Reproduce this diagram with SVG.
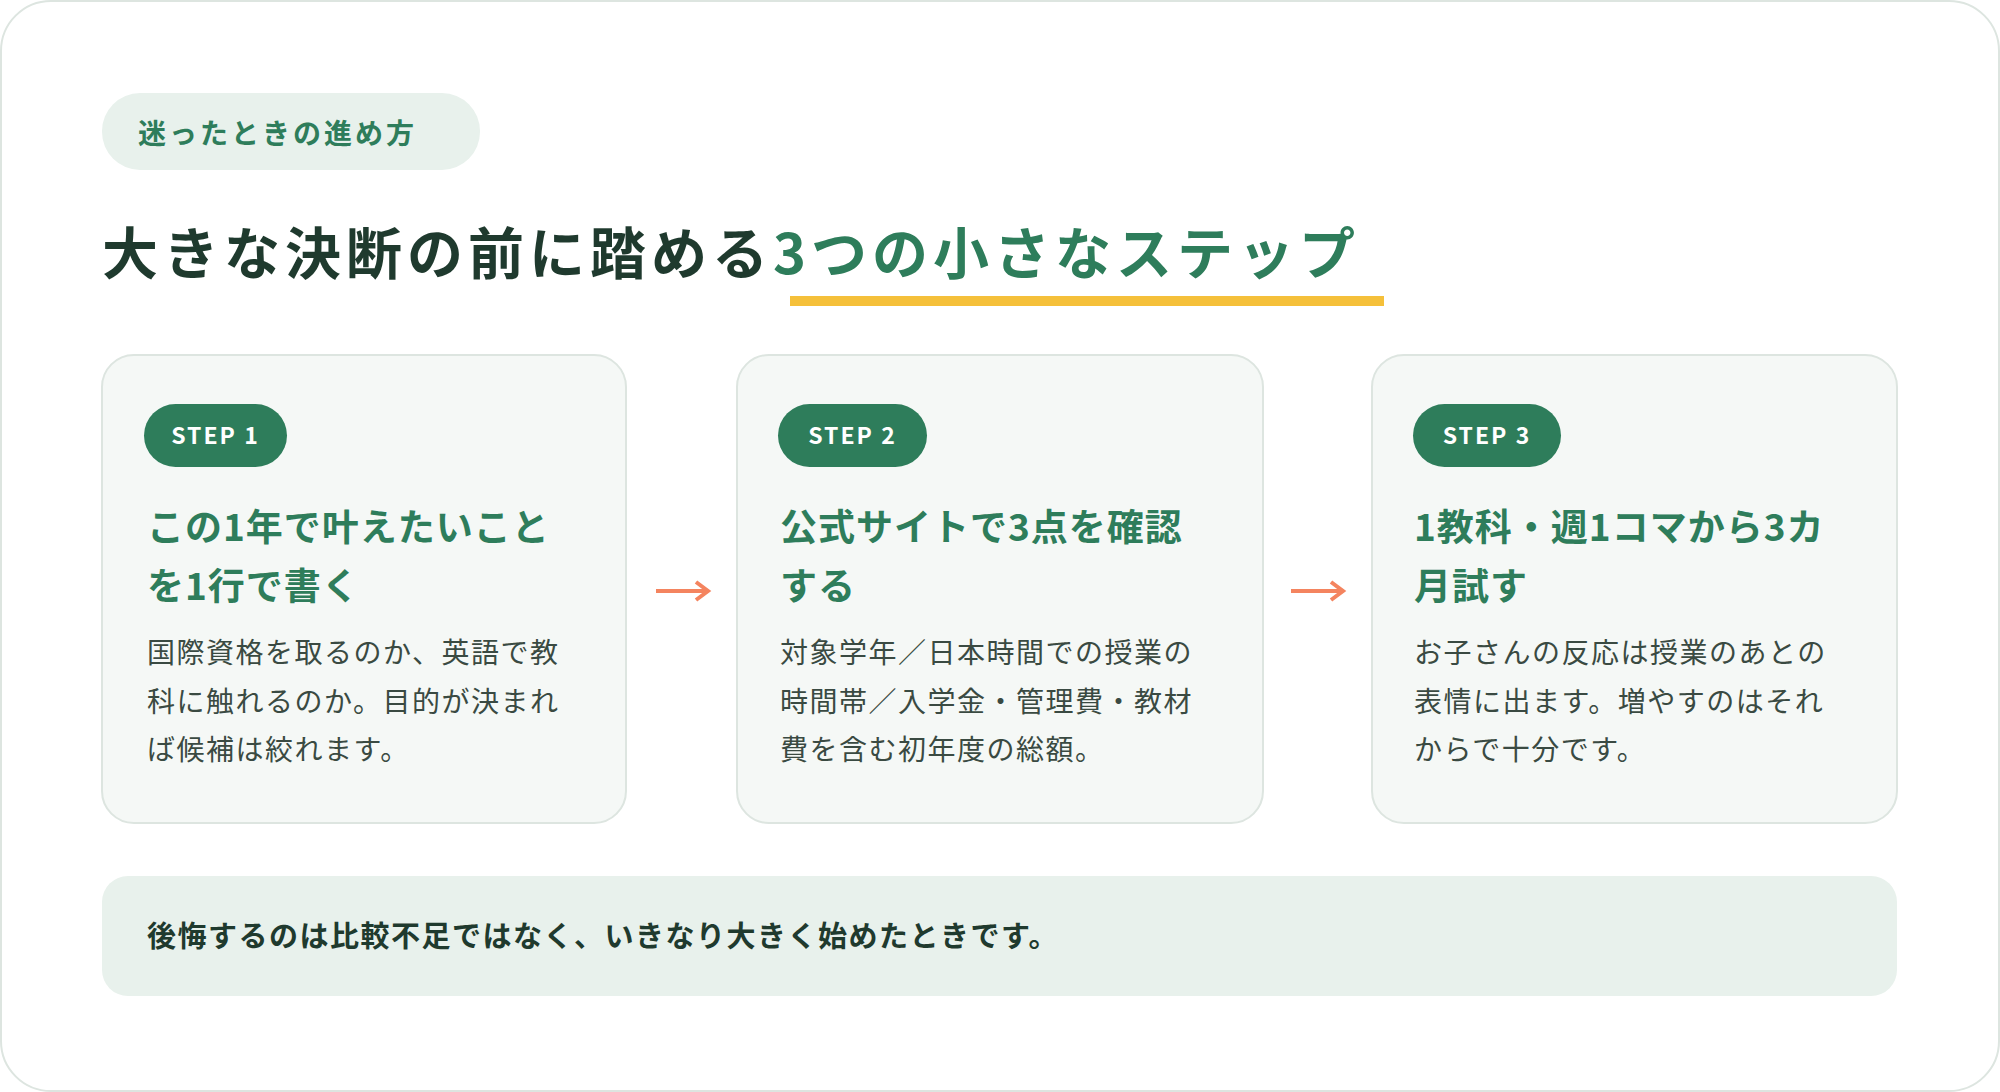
<svg xmlns="http://www.w3.org/2000/svg" width="2000" height="1092" viewBox="0 0 2000 1092">
<style>
text{font-family:"Noto Sans CJK JP","Noto Sans",sans-serif}
.card{fill:#f5f8f6;stroke:#dde5e0;stroke-width:2}
.badge{fill:#2e7d5b}
.bt{fill:#fff;font-weight:700;font-size:23px;letter-spacing:2px;text-anchor:middle}
.h{fill:#2e7d5b;font-weight:700;font-size:37px;letter-spacing:1px}
.b{fill:#3a4a42;font-size:28px;letter-spacing:1.5px}
.arr{stroke:#f4845f;stroke-width:4;fill:none}
</style>
<defs><marker id="ah" markerWidth="8" markerHeight="8" refX="6" refY="4" orient="auto" markerUnits="userSpaceOnUse"><path d="M0,0 L8,4 L0,8" fill="none" stroke="#f4845f" stroke-width="0"/></marker></defs>
<rect x="1" y="1" width="1998" height="1090" rx="50" fill="#fff" stroke="#dde5e0" stroke-width="2"/>
<g id="tag"><rect x="102" y="93" width="378" height="77" rx="38" fill="#e8f1ec"/><text x="138" y="144" font-size="28" font-weight="700" fill="#2e7d5b" letter-spacing="3">迷ったときの進め方</text></g>
<g id="title"><rect x="790" y="296" width="594" height="10" fill="#f5c03a"/>
<text x="102" y="274" font-size="56" font-weight="700" fill="#1f3a2e" letter-spacing="5">大きな決断の前に踏める<tspan fill="#2e7d5b">3つの小さなステップ</tspan></text></g>
<g id="step1"><rect class="card" x="102" y="355" width="524" height="468" rx="32"/><rect class="badge" x="144" y="404" width="143" height="63" rx="31.5"/><text class="bt" x="215.5" y="444">STEP 1</text>
<text class="h" x="147" y="541">この1年で叶えたいこと</text><text class="h" x="147" y="600">を1行で書く</text>
<text class="b" x="147" y="663">国際資格を取るのか、英語で教</text><text class="b" x="147" y="712">科に触れるのか。目的が決まれ</text><text class="b" x="147" y="760">ば候補は絞れます。</text></g>
<g id="step2"><rect class="card" x="737" y="355" width="526" height="468" rx="32"/><rect class="badge" x="778" y="404" width="149" height="63" rx="31.5"/><text class="bt" x="852.5" y="444">STEP 2</text>
<text class="h" x="780" y="541">公式サイトで3点を確認</text><text class="h" x="780" y="600">する</text>
<text class="b" x="780" y="663">対象学年／日本時間での授業の</text><text class="b" x="780" y="712">時間帯／入学金・管理費・教材</text><text class="b" x="780" y="760">費を含む初年度の総額。</text></g>
<g id="step3"><rect class="card" x="1372" y="355" width="525" height="468" rx="32"/><rect class="badge" x="1413" y="404" width="148" height="63" rx="31.5"/><text class="bt" x="1487" y="444">STEP 3</text>
<text class="h" x="1414" y="541">1教科・週1コマから3カ</text><text class="h" x="1414" y="600">月試す</text>
<text class="b" x="1414" y="663">お子さんの反応は授業のあとの</text><text class="b" x="1414" y="712">表情に出ます。増やすのはそれ</text><text class="b" x="1414" y="760">からで十分です。</text></g>
<g id="connectors">
<path class="arr" d="M656,591 H706 M696,582 L708,591 L696,600"/>
<path class="arr" d="M1291,591 H1341 M1331,582 L1343,591 L1331,600"/>
</g>
<g id="note"><rect x="102" y="876" width="1795" height="120" rx="26" fill="#e8f1ec"/><text x="147" y="947" font-size="29" font-weight="700" fill="#1f3a2e" letter-spacing="1.5">後悔するのは比較不足ではなく、いきなり大きく始めたときです。</text></g>
</svg>
